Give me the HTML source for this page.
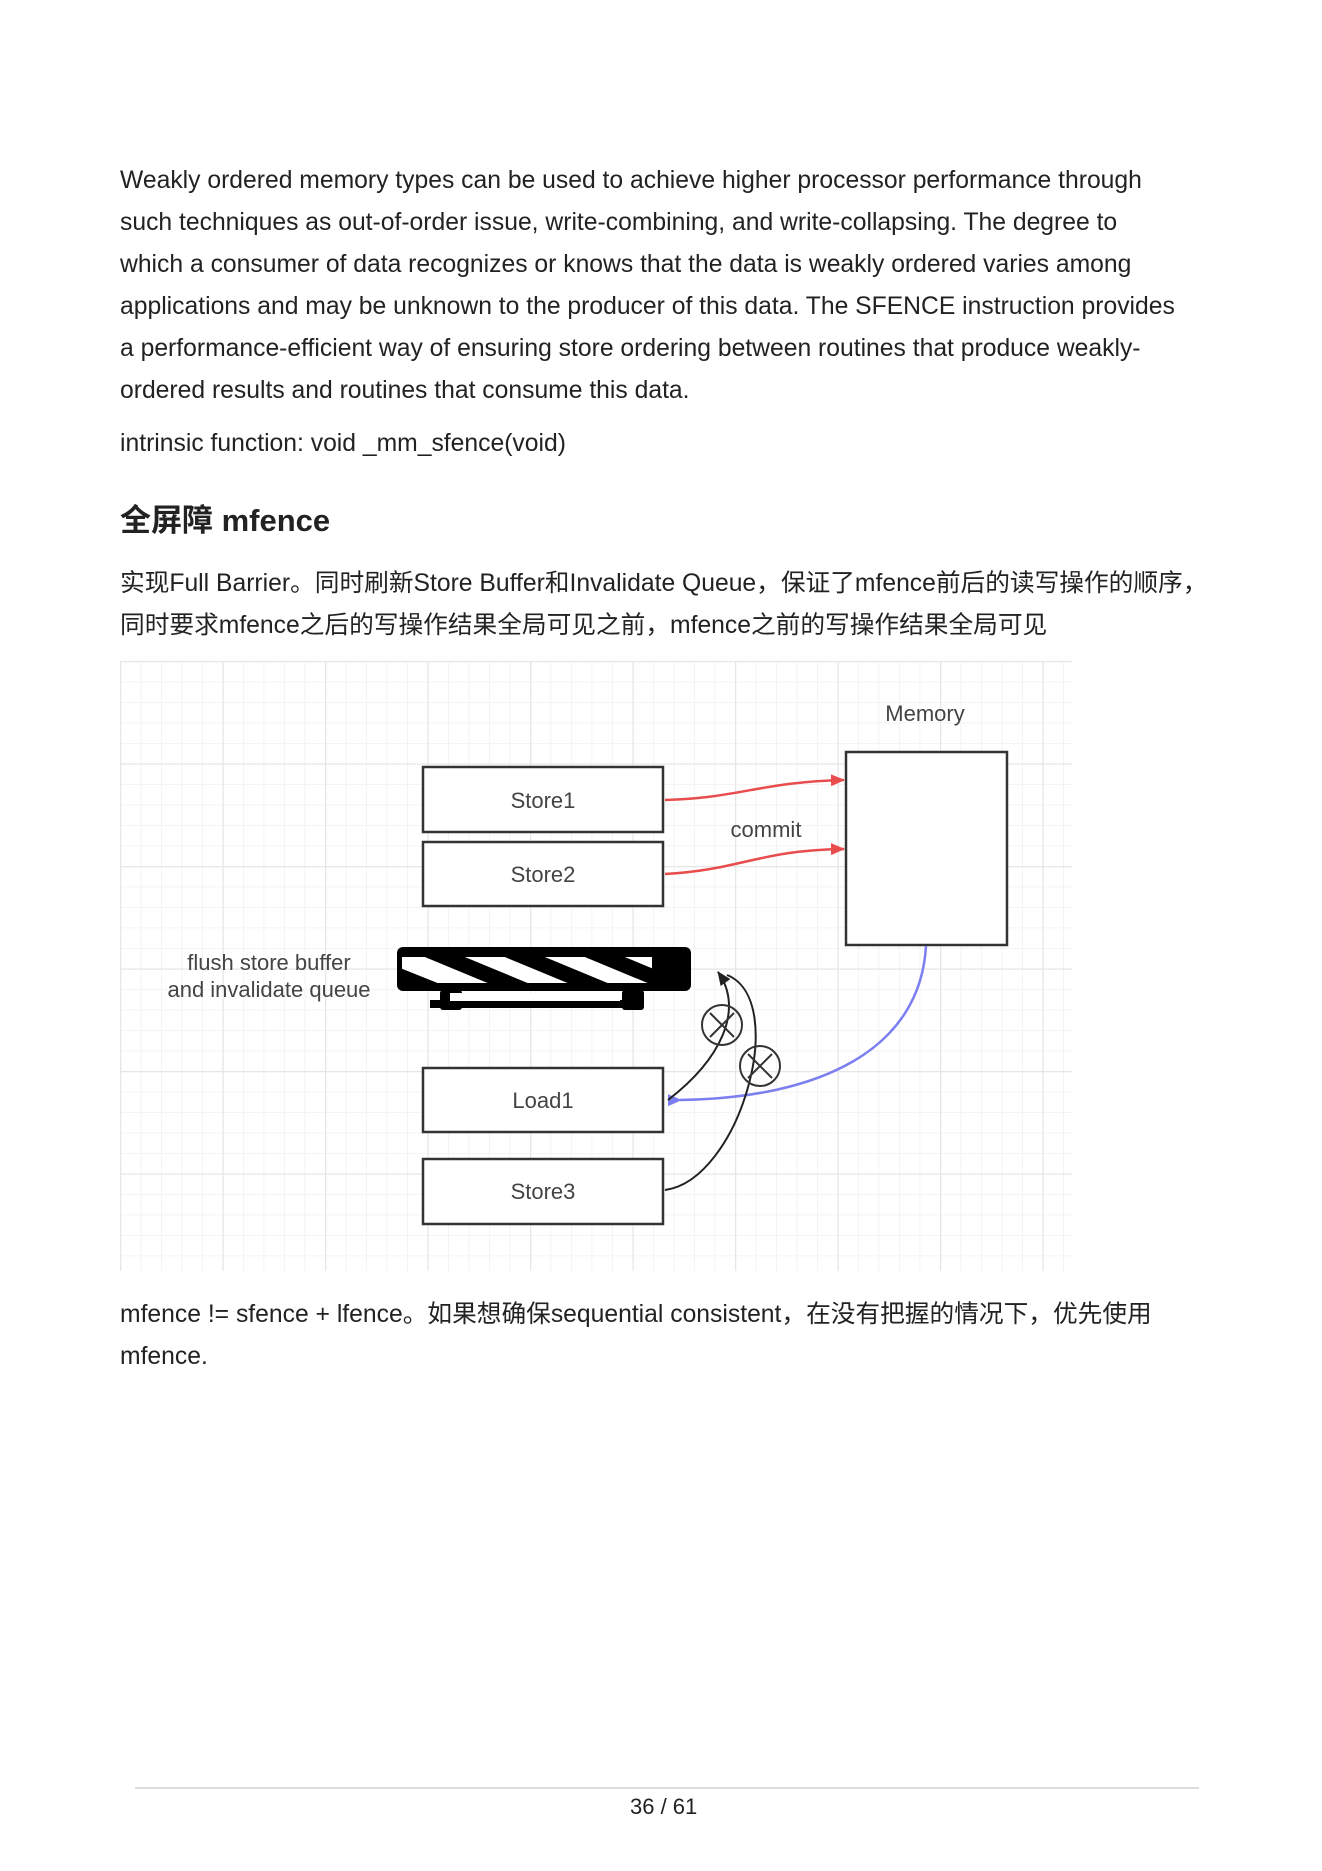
<!DOCTYPE html>
<html><head><meta charset="utf-8"><style>
body{margin:0;background:#fff;width:1322px;height:1871px;position:relative;overflow:hidden;font-family:"Liberation Sans","Noto Sans CJK SC",sans-serif;color:#222}
.t{position:absolute;left:120px;font-size:24.7px;white-space:nowrap;line-height:42px}
</style></head><body>
<div class="t" style="top:160px;">Weakly ordered memory types can be used to achieve higher processor performance through<br>such techniques as out-of-order issue, write-combining, and write-collapsing. The degree to<br>which a consumer of data recognizes or knows that the data is weakly ordered varies among<br>applications and may be unknown to the producer of this data. The SFENCE instruction provides<br>a performance-efficient way of ensuring store ordering between routines that produce weakly-<br>ordered results and routines that consume this data.</div>
<div class="t" style="top:423px;">intrinsic function: void _mm_sfence(void)</div>
<div class="t" style="top:500px;font-size:31px;font-weight:bold;">全屏障 mfence</div>
<div class="t" style="top:563px;">实现Full Barrier。同时刷新Store Buffer和Invalidate Queue，保证了mfence前后的读写操作的顺序，<br>同时要求mfence之后的写操作结果全局可见之前，mfence之前的写操作结果全局可见</div>
<svg style="position:absolute;left:0;top:0" width="1322" height="1871">
<defs>
<pattern id="g" x="120" y="661" width="20.5" height="20.5" patternUnits="userSpaceOnUse"><path d="M0 0H20.5M0 0V20.5" stroke="#f0f0f0" stroke-width="1.5" fill="none"/></pattern>
<pattern id="G" x="120" y="661" width="102.5" height="102.5" patternUnits="userSpaceOnUse"><path d="M0 0H102.5M0 0V102.5" stroke="#e6e6e6" stroke-width="2.5" fill="none"/></pattern>
<marker id="ar" markerWidth="14" markerHeight="12" refX="13" refY="6" orient="auto" markerUnits="userSpaceOnUse"><path d="M0 0L14 6L0 12z" fill="#e84c4c"/></marker>
<marker id="ab" markerWidth="14" markerHeight="12" refX="2" refY="6" orient="auto" markerUnits="userSpaceOnUse"><path d="M14 0L0 6L14 12z" fill="#7b7ff0"/></marker>
<marker id="ak" markerWidth="14" markerHeight="12" refX="13" refY="6" orient="auto" markerUnits="userSpaceOnUse"><path d="M0 0L14 6L0 12z" fill="#222"/></marker>
</defs>
<rect x="120" y="661" width="952" height="610" fill="url(#g)"/>
<rect x="120" y="661" width="952" height="610" fill="url(#G)"/>
<g fill="#fff" stroke="#333" stroke-width="2.5">
<rect x="423" y="767" width="240" height="65"/>
<rect x="423" y="842" width="240" height="64"/>
<rect x="423" y="1068" width="240" height="64"/>
<rect x="423" y="1159" width="240" height="65"/>
<rect x="846" y="752" width="161" height="193"/>
</g>
<g font-family="Liberation Sans,sans-serif" font-size="22" fill="#444" text-anchor="middle">
<text x="543" y="808">Store1</text><text x="543" y="882">Store2</text>
<text x="543" y="1108">Load1</text><text x="543" y="1199">Store3</text>
<text x="925" y="721">Memory</text><text x="766" y="837">commit</text>
<text x="269" y="970">flush store buffer</text><text x="269" y="997">and invalidate queue</text>
</g>
<rect x="397" y="947" width="294" height="44" rx="6" fill="#000"/>
<rect x="402" y="957" width="250" height="26" fill="#fff"/>
<clipPath id="c"><rect x="402" y="955" width="265" height="29"/></clipPath>
<g clip-path="url(#c)" fill="#000"><path d="M420 955h40l70 29h-40z M500 955h40l70 29h-40z M580 955h40l70 29h-40z M400 968l40 16h-40z"/></g>
<rect x="430" y="1000" width="200" height="8" fill="#000"/>
<rect x="440" y="990" width="22" height="20" rx="3" fill="#000"/>
<rect x="622" y="990" width="22" height="20" rx="3" fill="#000"/>
<rect x="450" y="993" width="170" height="8" fill="#fff"/>
<path d="M665 800 C740 798 760 782 844 780" stroke="#e84c4c" stroke-width="2.5" fill="none" marker-end="url(#ar)"/>
<path d="M665 874 C740 870 760 850 844 849" stroke="#e84c4c" stroke-width="2.5" fill="none" marker-end="url(#ar)"/>
<path d="M926 946 C920 1050 820 1098 680 1100" stroke="#7b7ff0" stroke-width="2.5" fill="none" marker-end="url(#ab)"/>
<path d="M668 1100 C720 1060 745 1010 718 972" stroke="#222" stroke-width="2" fill="none" marker-end="url(#ak)"/>
<path d="M665 1190 C740 1180 790 1000 727 975" stroke="#222" stroke-width="2" fill="none"/>
<g stroke="#333" stroke-width="2" fill="none">
<circle cx="722" cy="1025" r="20"/><path d="M710 1013l24 24M734 1013l-24 24"/>
<circle cx="760" cy="1066" r="20"/><path d="M748 1054l24 24M772 1054l-24 24"/>
</g>
<line x1="135" y1="1788" x2="1199" y2="1788" stroke="#ddd" stroke-width="2"/>
</svg>
<div class="t" style="top:1294px;">mfence != sfence + lfence。如果想确保sequential consistent，在没有把握的情况下，优先使用<br>mfence.</div>
<div class="t" style="top:1786px;left:630px;font-size:22px;">36 / 61</div>
</body></html>
